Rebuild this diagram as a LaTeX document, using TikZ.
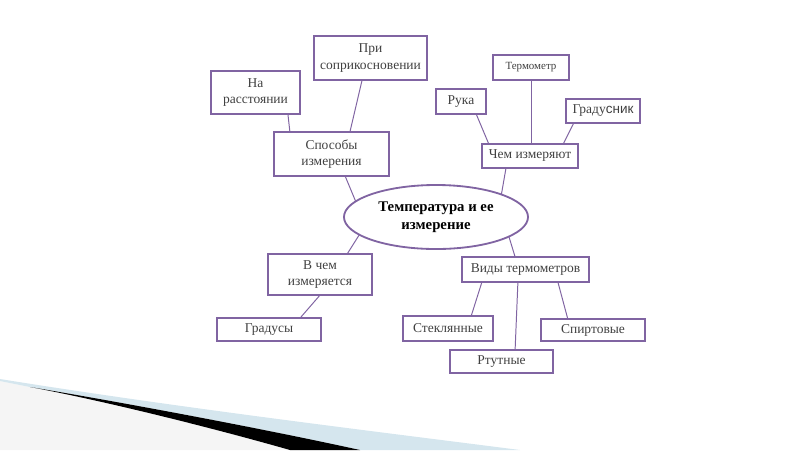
\documentclass[tikz,border=0pt]{standalone}
\usepackage{fontspec}
\setmainfont{Liberation Serif}
\newfontfamily\sansfnt{Liberation Sans}
\usepackage{tikz}
\usetikzlibrary{shapes.geometric, positioning, calc}
\definecolor{cFrame}{RGB}{128,100,162}
\definecolor{cText}{RGB}{64,64,64}
\definecolor{cSwoosh}{RGB}{213,230,238}
\tikzset{
	box/.style ={rectangle, draw=cFrame, line width=1.3pt, text=cText, align=center, inner sep=1pt, outer sep=0pt},
	hub/.style ={ellipse, draw=cFrame, line width=1.3pt, align=center, inner sep=0pt, outer sep=0pt, minimum width=4.6cm, minimum height=1.6cm, font=\fontsize{10.5}{13}\selectfont\bfseries},
	link/.style={draw=cFrame, line width=0.7pt},
}
\begin{document}
\begin{tikzpicture}[font=\fontsize{9.6}{11.5}\selectfont, x=0.025cm, y=-0.025cm]
	\useasboundingbox (0,0) rectangle (800,450);
	% corner swoosh
	\fill[black!4] (0,381) -- (30,387) .. controls (110,402) and (220,430) .. (290,450) -- (0,450) -- cycle;
	\fill[cSwoosh] (0,379) .. controls (180,408) and (380,432) .. (520,450) -- (360,450) .. controls (260,428) and (120,402) .. (30,387) -- (0,381) -- cycle;
	\fill[black] (30,387) .. controls (120,402) and (260,428) .. (360,450) -- (290,450) .. controls (220,430) and (110,402) .. (30,387) -- cycle;
	% centre
	\node[hub] (main) at (436,217) {Температура и ее\\измерение};
	% upper left
	\node[box, minimum width=2.83cm, minimum height=1.10cm] (pri) at (370.5,58) {При\\соприкосновении};
	\node[box, minimum width=2.23cm, minimum height=1.08cm] (nar) at (255.5,92.5) {На\\расстоянии};
	\node[box, minimum width=2.88cm, minimum height=1.10cm] (sposob) at (331.5,154) {Способы\\измерения};
	% upper right
	\node[box, minimum width=1.90cm, minimum height=0.63cm, font=\fontsize{7.8}{9.5}\selectfont] (termo) at (531,67.5) {Термометр};
	\node[box, minimum width=1.25cm, minimum height=0.63cm] (ruka) at (461,101.5) {Рука};
	\node[box, minimum width=1.85cm, minimum height=0.60cm] (gradusnik) at (603,111) {Граду{\sansfnt сник}};
	\node[box, minimum width=2.40cm, minimum height=0.60cm] (chem) at (530,156) {Чем измеряют};
	% lower left
	\node[box, minimum width=2.60cm, minimum height=1.03cm] (vchem) at (320,274.5) {В чем\\измеряется};
	\node[box, minimum width=2.60cm, minimum height=0.58cm] (gradusy) at (269,329.5) {Градусы};
	% lower right
	\node[box, minimum width=3.18cm, minimum height=0.63cm] (vidy) at (525.5,269.5) {Виды термометров};
	\node[box, minimum width=2.25cm, minimum height=0.63cm] (stekl) at (448,328.5) {Стеклянные};
	\node[box, minimum width=2.58cm, minimum height=0.58cm] (rtut) at (501.5,361.5) {Ртутные};
	\node[box, minimum width=2.60cm, minimum height=0.55cm] (spirt) at (593,330) {Спиртовые};
	% links
	\draw[link] ([xshift=0.81cm]nar.south) -- ([xshift=-1.04cm]sposob.north);
	\draw[link] ([xshift=-0.21cm]pri.south) -- ([xshift=0.46cm]sposob.north);
	\draw[link] ([xshift=0.34cm]sposob.south) -- (main.169.5);
	\draw[link] ([xshift=0.38cm]ruka.south) -- ([xshift=-1.03cm]chem.north);
	\draw[link] (termo.south) -- (termo.south |- chem.north);
	\draw[link] ([xshift=-0.73cm]gradusnik.south) -- ([xshift=0.83cm]chem.north);
	\draw[link] ([xshift=-0.6cm]chem.south) -- (main.19.5);
	\draw[link] (main.193.9) -- ([xshift=0.68cm]vchem.north);
	\draw[link] (vchem.south) -- ([xshift=0.78cm]gradusy.north);
	\draw[link] (main.-15.5) -- ([xshift=-0.26cm]vidy.north);
	\draw[link] ([xshift=-1.09cm]vidy.south) -- ([xshift=0.58cm]stekl.north);
	\draw[link] ([xshift=-0.19cm]vidy.south) -- ([xshift=0.34cm]rtut.north);
	\draw[link] ([xshift=0.81cm]vidy.south) -- ([xshift=-0.63cm]spirt.north);
\end{tikzpicture}
\end{document}
